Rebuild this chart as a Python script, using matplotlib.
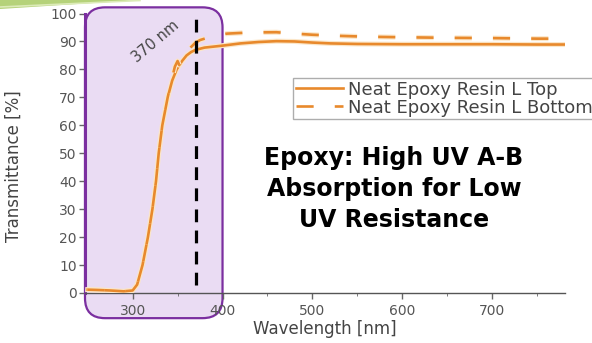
import numpy as np
import matplotlib
matplotlib.use("Agg")
import matplotlib.pyplot as plt
from matplotlib.patches import FancyBboxPatch, Polygon
import matplotlib.patheffects as pe

# ---- data ----
wl_top = [250, 260, 275, 290, 300, 305, 311, 317, 322, 326, 329, 333, 339, 344, 349,
          355, 360, 365, 370, 380, 400, 420, 440, 460, 480, 500, 520, 550, 600, 650,
          700, 750, 780]
t_top = [1.2, 1.1, 0.9, 0.6, 0.9, 3.0, 10, 20, 30, 40, 50, 60, 70, 76, 80,
         83, 85, 86.2, 87.0, 87.8, 88.5, 89.3, 89.8, 90.1, 90.0, 89.6, 89.3, 89.1, 89.0, 89.0,
         89.0, 88.9, 88.9]

wl_bot = [250, 260, 275, 290, 300, 305, 311, 317, 322, 326, 329, 333, 339, 344, 347,
          350, 352, 355, 360, 365, 370, 375, 380, 390, 405, 430, 460, 480, 500, 530,
          560, 600, 650, 700, 750, 780]
t_bot = [1.2, 1.1, 0.9, 0.6, 0.9, 3.0, 10, 20, 30, 40, 50, 60, 70, 77, 81,
         83, 81.5, 84.5, 86, 88, 89.6, 90.5, 91, 92, 92.8, 93.2, 93.3, 92.8, 92.4, 92.0,
         91.7, 91.5, 91.3, 91.2, 91.0, 91.0]

series_labels = ["Neat Epoxy Resin L Top", "Neat Epoxy Resin L Bottom"]
cutoff_nm = 370
cutoff_range = [3, 100]
uv_region = [247, 400]      # highlighted UV band (nm)
uv_region_y = [-9, 102.2]   # extent in % units
xticks = [300, 400, 500, 600, 700]
xminor = [350, 450, 550, 650, 750]
yticks = list(range(0, 101, 10))
xlim = (247, 781)
ylim = (0, 100)
annot_text = "Epoxy: High UV A-B\nAbsorption for Low\nUV Resistance"

# ---- figure ----
W, H, DPI = 592, 343, 100
fig = plt.figure(figsize=(W / DPI, H / DPI), dpi=DPI)
fig.patch.set_facecolor("white")
ax = fig.add_axes([85 / W, 50 / H, (565 - 85) / W, 279.5 / H])
ax.set_xlim(*xlim)
ax.set_ylim(*ylim)
ax.set_facecolor("none")

orange = "#e8892c"
purple = "#7b2fa0"
halo = [pe.Stroke(linewidth=3.6, foreground="#fbe6c8"), pe.Normal()]

# UV region rounded box
px_per_x = (565 - 85) / (xlim[1] - xlim[0])
px_per_y = 279.5 / (ylim[1] - ylim[0])
aspect = (1 / px_per_y) / (1 / px_per_x)
r_px = 20
box = FancyBboxPatch((uv_region[0], uv_region_y[0]),
                     uv_region[1] - uv_region[0], uv_region_y[1] - uv_region_y[0],
                     boxstyle=f"round,pad=0,rounding_size={r_px / px_per_x}",
                     mutation_aspect=aspect,
                     facecolor="#eadcf3", edgecolor=purple, linewidth=1.6,
                     clip_on=False, zorder=0.5)
ax.add_patch(box)

# curves
ax.plot(wl_top, t_top, color=orange, lw=1.9, label=series_labels[0],
        zorder=3, path_effects=halo)
ax.plot(wl_bot, t_bot, color=orange, lw=1.9, linestyle=(0, (6.5, 8)),
        label=series_labels[1], zorder=3, path_effects=halo)

# cutoff line
ax.plot([cutoff_nm, cutoff_nm], cutoff_range, color="black", lw=2.3,
        linestyle=(0, (4, 2.6)), zorder=4, clip_on=False)
ax.text(325, 90, f"{cutoff_nm} nm", rotation=40, ha="center", va="center",
        fontsize=10.5, color="#444444", zorder=5)

# axes styling
for s in ["top", "right"]:
    ax.spines[s].set_visible(False)
ax.spines["left"].set_color(purple)
ax.spines["left"].set_linewidth(2.2)
ax.spines["bottom"].set_color("#555555")
ax.spines["bottom"].set_linewidth(1.0)
ax.set_xticks(xticks)
ax.set_xticks(xminor, minor=True)
ax.set_yticks(yticks)
ax.tick_params(axis="both", which="major", labelsize=10, labelcolor="#555555",
               color="#666666", length=4, width=1)
ax.tick_params(axis="x", which="minor", length=2, color="#666666")
ax.tick_params(axis="x", pad=4)
ax.tick_params(axis="y", pad=2)

ax.set_xlabel("Wavelength [nm]", fontsize=12, color="#444444", labelpad=1)
ax.set_ylabel("Transmittance [%]", fontsize=12, color="#444444")
ax.yaxis.set_label_coords((23 - 85) / 480, (293 - 166) / 279.5)

# legend
leg = ax.legend(loc="upper left", bbox_to_anchor=(293 / W, 1 - 78 / H),
                bbox_transform=fig.transFigure, fontsize=13, frameon=True,
                fancybox=False, borderpad=0.15, labelspacing=0.0,
                handlelength=2.6, handletextpad=0.3, borderaxespad=0)
leg.get_frame().set_edgecolor("#999999")
leg.get_frame().set_linewidth(1.0)
for t in leg.get_texts():
    t.set_color("#444444")
for l in leg.get_lines():
    l.set_path_effects([])

# annotation text
fig.text(394 / W, 1 - 189 / H, annot_text, ha="center", va="center",
         fontsize=17, fontweight="bold", color="black", linespacing=1.36,
         family="DejaVu Sans")

# decorative green swoosh at top-left
fig.patches.append(Polygon([[0, 1], [140 / W, 1], [0, 1 - 9 / H]], closed=True,
                           transform=fig.transFigure, facecolor="#b5d27a",
                           edgecolor="none", figure=fig))
fig.lines.append(matplotlib.lines.Line2D([0, 140 / W], [1 - 7 / H, 1 - 0.5 / H],
                 transform=fig.transFigure, color="#dcebb8", lw=1.2, figure=fig))

fig.savefig("out.png", dpi=DPI)
